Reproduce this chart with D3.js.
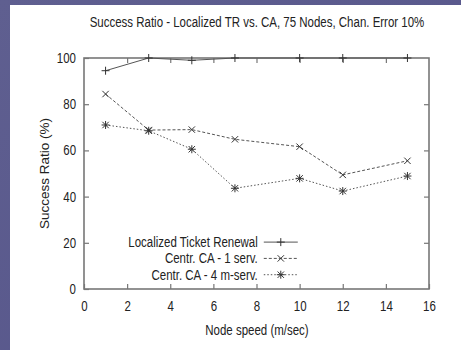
<!DOCTYPE html>
<html>
<head>
  <script src="https://cdn.jsdelivr.net/npm/d3@7"></script>
  <style type="text/css">
    body { margin: 0; background: #5c5b8c; }
    svg { display: block; }
    text { font-family: "Liberation Sans", Arial, sans-serif; fill: #222; }
  </style>
</head>
<body>
  <div id="chartArea"></div>
  <script type="text/javascript">
    let speeds = [1, 3, 5, 7, 10, 12, 15];
    let localizedTR = [94.5, 100, 99, 100, 100, 100, 100];
    let centrCA1 = [84.4, 68.8, 69, 64.8, 61.6, 49.4, 55.5];
    let centrCA4 = [71, 68.5, 60.5, 43.6, 47.9, 42.4, 48.9];
    let seriesNames = ['Localized Ticket Renewal', 'Centr. CA - 1 serv.', 'Centr. CA - 4 m-serv.'];
    let xTicks = [0, 2, 4, 6, 8, 10, 12, 14, 16];
    let yTicks = [0, 20, 40, 60, 80, 100];

    let W = 461, H = 350;
    let margin = { top: 58, right: 32, bottom: 61, left: 84 };
    let w = W - margin.left - margin.right;
    let h = H - margin.top - margin.bottom;
    let K = 0.82; // horizontal squeeze, the original font is a narrow one

    // squeeze texts horizontally around their own anchor
    let condense = sel => sel.each(function () {
      let t = d3.select(this);
      let tx = +t.attr('x') || 0;
      t.attr('x', tx / K).attr('transform', `scale(${K},1)`);
    });

    let svg = d3.select('#chartArea').append('svg')
      .attr('width', W)
      .attr('height', H);

    // slide background
    let defs = svg.append('defs');
    let grad = defs.append('linearGradient').attr('id', 'bg')
      .attr('x1', 0).attr('y1', 0).attr('x2', 1).attr('y2', 1);
    grad.append('stop').attr('offset', 0).attr('stop-color', '#5f5f90');
    grad.append('stop').attr('offset', 1).attr('stop-color', '#55548a');
    svg.append('rect').attr('width', W).attr('height', H).attr('fill', 'url(#bg)');
    svg.append('rect').attr('x', 10).attr('y', 5).attr('width', W - 10).attr('height', H - 5).attr('fill', '#fff');

    let g = svg.append('g').attr('transform', `translate(${margin.left}, ${margin.top})`);

    let x = d3.scaleLinear().domain([0, 16]).range([0, w]);
    let y = d3.scaleLinear().domain([0, 100]).range([h, 0]);

    let axisColor = '#777';
    let styleAxis = sel => {
      sel.select('.domain').remove();
      sel.selectAll('line').attr('stroke', axisColor).attr('stroke-width', 1.2);
      sel.selectAll('text').attr('font-size', 14).attr('fill', '#222')
        .style('font-family', '"Liberation Sans", Arial, sans-serif')
        .call(condense);
    };

    g.append('g').attr('transform', `translate(0, ${h})`)
      .call(d3.axisBottom(x).tickValues(xTicks).tickSize(-5).tickPadding(12))
      .call(styleAxis);
    g.append('g')
      .call(d3.axisTop(x).tickValues(xTicks.slice(1, -1)).tickSize(-5).tickFormat(''))
      .call(styleAxis);
    g.append('g')
      .call(d3.axisLeft(y).tickValues(yTicks).tickSize(-5).tickPadding(8))
      .call(styleAxis);
    g.append('g').attr('transform', `translate(${w}, 0)`)
      .call(d3.axisRight(y).tickValues(yTicks.slice(1, -1)).tickSize(-5).tickFormat(''))
      .call(styleAxis);

    g.append('rect').attr('width', w).attr('height', h)
      .attr('fill', 'none').attr('stroke', axisColor).attr('stroke-width', 1.6);

    let series = [
      { name: seriesNames[0], values: localizedTR, dash: null, mark: 'plus' },
      { name: seriesNames[1], values: centrCA1, dash: '3,2', mark: 'cross' },
      { name: seriesNames[2], values: centrCA4, dash: '1.5,2', mark: 'star' }
    ];

    let line = d3.line().x((d, i) => x(speeds[i])).y(d => y(d));
    let lineColor = '#555';

    let drawMark = (sel, type, cx, cy) => {
      let r = 4;
      let p = d3.path();
      if (type === 'plus' || type === 'star') {
        p.moveTo(cx - r, cy); p.lineTo(cx + r, cy);
        p.moveTo(cx, cy - r); p.lineTo(cx, cy + r);
      }
      if (type === 'cross' || type === 'star') {
        let q = r * 0.8;
        p.moveTo(cx - q, cy - q); p.lineTo(cx + q, cy + q);
        p.moveTo(cx - q, cy + q); p.lineTo(cx + q, cy - q);
      }
      sel.append('path').attr('d', p.toString())
        .attr('stroke', '#333').attr('stroke-width', 1).attr('fill', 'none');
    };

    series.forEach(s => {
      g.append('path').datum(s.values)
        .attr('d', line)
        .attr('fill', 'none')
        .attr('stroke', lineColor)
        .attr('stroke-width', 1)
        .attr('stroke-dasharray', s.dash);
      let mg = g.append('g');
      s.values.forEach((v, i) => drawMark(mg, s.mark, x(speeds[i]), y(v)));
    });

    // legend
    let legend = g.append('g').attr('transform', `translate(${x(8.06)}, ${y(20.3)})`);
    series.forEach((s, i) => {
      let row = legend.append('g').attr('transform', `translate(0, ${i * 16.3})`);
      row.append('text').attr('x', 0).attr('y', 0).attr('dy', '0.35em')
        .attr('text-anchor', 'end').attr('font-size', 14)
        .text(s.name)
        .call(condense);
      row.append('line').attr('x1', 6).attr('x2', 40).attr('y1', 0).attr('y2', 0)
        .attr('stroke', lineColor).attr('stroke-width', 1).attr('stroke-dasharray', s.dash);
      drawMark(row, s.mark, 23, 0);
    });

    // title and axis labels
    svg.append('text').attr('x', 257).attr('y', 27)
      .attr('text-anchor', 'middle').attr('font-size', 14)
      .text('Success Ratio - Localized TR vs. CA, 75 Nodes, Chan. Error 10%')
      .call(condense);
    svg.append('text').attr('x', 257).attr('y', 335)
      .attr('text-anchor', 'middle').attr('font-size', 14)
      .text('Node speed (m/sec)')
      .call(condense);
    svg.append('text')
      .attr('transform', `translate(49, ${margin.top + h / 2}) rotate(-90)`)
      .attr('text-anchor', 'middle').attr('font-size', 13.5)
      .text('Success Ratio (%)');
  </script>
</body>
</html>
